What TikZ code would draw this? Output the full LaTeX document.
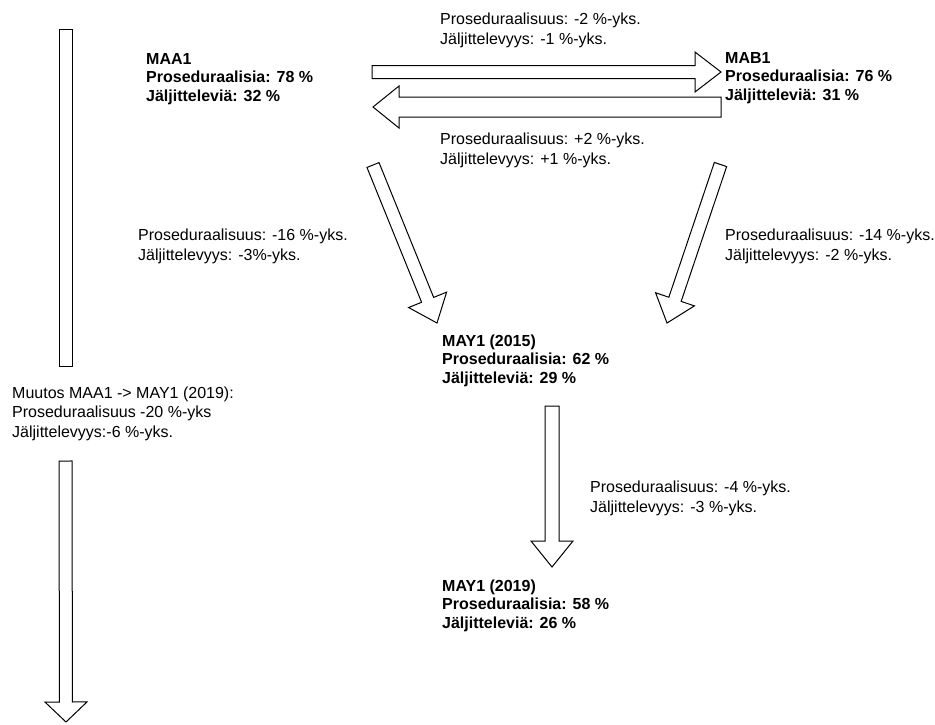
\documentclass[tikz,border=0pt]{standalone}
\usepackage{fontspec}
\setmainfont{Liberation Sans}
\usetikzlibrary{calc}
\tikzset{
  arr/.style={draw=black, fill=white, line width=1pt, line join=miter},
  lbl/.style={anchor=base west, inner sep=0pt, align=left, font=\fontsize{16}{19.3}\selectfont},
  blk/.style={anchor=base west, inner sep=0pt, align=left, font=\fontsize{16}{18.5}\selectfont\bfseries},
}
\newcommand{\blockarrow}[5]{%
  \coordinate (hb) at ($(#2)!#5!(#1)$);
  \draw[arr] ($(#1)!#3!90:(#2)$) -- ($(hb)!#3!90:(#2)$) -- ($(hb)!#4!90:(#2)$) -- (#2)
    -- ($(hb)!#4!-90:(#2)$) -- ($(hb)!#3!-90:(#2)$) -- ($(#1)!#3!-90:(#2)$) -- cycle;}
\begin{document}
\begin{tikzpicture}[x=1pt,y=-1pt]
\useasboundingbox (0,0) rectangle (935,724);
% coordinates of arrow ends
\coordinate (barT) at (65.5,29);
\coordinate (barB) at (65.5,366);
\coordinate (llT) at (65.5,461);
\coordinate (llB) at (66,722);
\coordinate (rA) at (372,72);
\coordinate (rB) at (721,72);
\coordinate (lA) at (721,107);
\coordinate (lB) at (373,107);
\coordinate (d1A) at (373,165);
\coordinate (d1B) at (437,323);
\coordinate (d2A) at (720.5,164.5);
\coordinate (d2B) at (667,323);
\coordinate (mA) at (552,406);
\coordinate (mB) at (552,567);
% arrows
\draw[arr] ($(barT)+(-6.5,0)$) rectangle ($(barB)+(6.5,0)$);
\blockarrow{llT}{llB}{6.5pt}{21pt}{20pt}
\blockarrow{rA}{rB}{6.5pt}{20pt}{26pt}
\blockarrow{lA}{lB}{10pt}{21pt}{26pt}
\blockarrow{d1A}{d1B}{6.5pt}{20.5pt}{25pt}
\blockarrow{d2A}{d2B}{6.5pt}{20.5pt}{25pt}
\blockarrow{mA}{mB}{7pt}{21pt}{26pt}
% blocks (positioned at baseline of last line)
\node[blk] (maa1) at (146,101) {MAA1\\Proseduraalisia: 78 \%\\Jäljitteleviä: 32 \%};
\node[blk] (mab1) at (725,100) {MAB1\\Proseduraalisia: 76 \%\\Jäljitteleviä: 31 \%};
\node[blk] (may15) at (442,383) {MAY1 (2015)\\Proseduraalisia: 62 \%\\Jäljitteleviä: 29 \%};
\node[blk] (may19) at (442,628) {MAY1 (2019)\\Proseduraalisia: 58 \%\\Jäljitteleviä: 26 \%};
% labels
\node[lbl] (l1) at (440,44) {Proseduraalisuus: -2 \%-yks.\\Jäljittelevyys: -1 \%-yks.};
\node[lbl] (l2) at (440,164) {Proseduraalisuus: +2 \%-yks.\\Jäljittelevyys: +1 \%-yks.};
\node[lbl] (l3) at (138,260) {Proseduraalisuus: -16 \%-yks.\\Jäljittelevyys: -3\%-yks.};
\node[lbl] (l4) at (725,260) {Proseduraalisuus: -14 \%-yks.\\Jäljittelevyys: -2 \%-yks.};
\node[lbl] (l5) at (590,512) {Proseduraalisuus: -4 \%-yks.\\Jäljittelevyys: -3 \%-yks.};
\node[lbl] (l6) at (12,437) {Muutos MAA1 -> MAY1 (2019):\\Proseduraalisuus -20 \%-yks\\Jäljittelevyys:-6 \%-yks.};
\end{tikzpicture}
\end{document}
